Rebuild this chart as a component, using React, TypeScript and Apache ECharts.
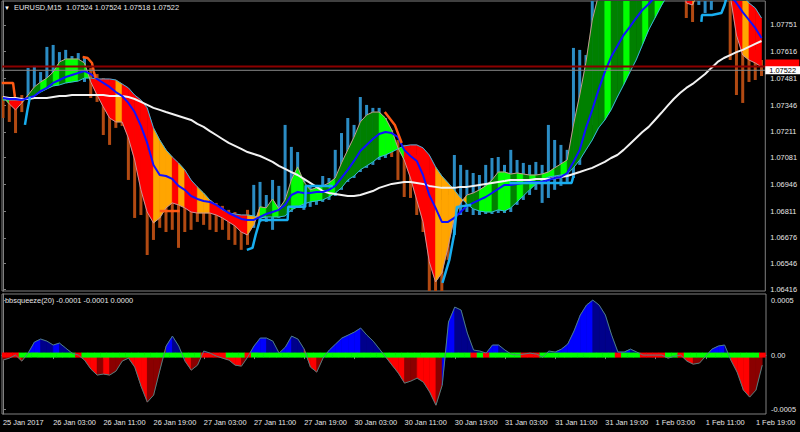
import { useEffect, useRef } from "react";
import * as echarts from "echarts";

// ---------- data (hourly samples, index = hours since 25 Jan 19:00) ----------
const timeLabels = [
  "25 Jan 2017", "26 Jan 03:00", "26 Jan 11:00", "26 Jan 19:00", "27 Jan 03:00", "27 Jan 11:00",
  "27 Jan 19:00", "30 Jan 03:00", "30 Jan 11:00", "30 Jan 19:00", "31 Jan 03:00", "31 Jan 11:00",
  "31 Jan 19:00", "1 Feb 03:00", "1 Feb 11:00", "1 Feb 19:00",
];
const priceTicks = [1.07751, 1.07616, 1.07481, 1.07346, 1.07211, 1.07081, 1.06946, 1.06811, 1.06676, 1.06546, 1.06416];
const oscTicks = [0.0005, 0, -0.0005];

const cloudA = [
  1.07372, 1.07372, 1.07372, 1.07372, 1.07377, 1.07392, 1.07412, 1.07428, 1.07443, 1.07448,
  1.07458, 1.07463, 1.07468, 1.07483, 1.07483, 1.07478, 1.07478, 1.07478, 1.07473, 1.07453,
  1.07433, 1.07397, 1.07372, 1.07332, 1.07231, 1.0717, 1.0712, 1.07084, 1.07054, 1.07019,
  1.06968, 1.06933, 1.06902, 1.06867, 1.06842, 1.06817, 1.06801, 1.06796, 1.06791, 1.06791,
  1.06786, 1.06776, 1.06781, 1.06781, 1.06781, 1.06786, 1.06817, 1.06832, 1.06847, 1.06857,
  1.06862, 1.06867, 1.06882, 1.06902, 1.06928, 1.06968, 1.06988, 1.07019, 1.07039, 1.07059,
  1.07084, 1.07094, 1.07109, 1.07125, 1.0714, 1.07145, 1.07145, 1.0713, 1.07094, 1.07034,
  1.06988, 1.06953, 1.06918, 1.06877, 1.06847, 1.06822, 1.06811, 1.06806, 1.06806, 1.06817,
  1.06811, 1.06827, 1.06857, 1.06887, 1.06918, 1.06948, 1.06968, 1.06983, 1.06988, 1.06993,
  1.06998, 1.07029, 1.07069, 1.0712, 1.0717, 1.07231, 1.07271, 1.07322, 1.07387, 1.07448,
  1.07513, 1.07574, 1.0765, 1.07726, 1.07786, 1.07847, 1.07902, 1.07953, 1.07978, 1.07978,
  1.07978, 1.07978, 1.07978, 1.07978, 1.07978, 1.07978, 1.07953, 1.07928, 1.07902, 1.07862,
  1.07837, 1.07786,
];
const cloudB = [
  1.07387, 1.07352, 1.07322, 1.07357, 1.07397, 1.07438, 1.07463, 1.07483, 1.07513, 1.07564,
  1.07579, 1.07579, 1.07579, 1.07559, 1.07463, 1.07397, 1.07337, 1.07281, 1.07261, 1.07261,
  1.0718, 1.07069, 1.06918, 1.06806, 1.06751, 1.06776, 1.06827, 1.06852, 1.06842, 1.06827,
  1.06806, 1.06801, 1.06801, 1.06801, 1.06791, 1.06776, 1.06756, 1.06736, 1.06705, 1.0669,
  1.06741, 1.06832, 1.06827, 1.06872, 1.06822, 1.06867, 1.06968, 1.07034, 1.06958, 1.06918,
  1.06928, 1.06938, 1.06953, 1.06978, 1.07054, 1.0712, 1.07185, 1.07261, 1.07296, 1.07311,
  1.07311, 1.07281, 1.07221, 1.0713, 1.07069, 1.06978, 1.06867, 1.06756, 1.06554, 1.06453,
  1.06498, 1.0663, 1.06781, 1.06852, 1.06892, 1.06902, 1.06918, 1.06938, 1.06968, 1.07008,
  1.07008, 1.06998, 1.07003, 1.06998, 1.06993, 1.06993, 1.06998, 1.07008, 1.07029, 1.07049,
  1.07069, 1.07246, 1.07397, 1.07564, 1.07776, 1.07902, 1.07978, 1.08029, 1.08079, 1.0813,
  1.0818, 1.08231, 1.08281, 1.08332, 1.08382, 1.08433, 1.08382, 1.08231, 1.08029, 1.07862,
  1.07852, 1.07928, 1.08003, 1.08029, 1.08029, 1.07978, 1.07902, 1.077, 1.07599, 1.07574,
  1.07559, 1.07539,
];
// L = lime, D = dark green, R = red, O = orange
const cloudTone = [
  "LRRODDLDLD", "LLDLRRRROR", "RRRROOOROR", "ROORRRRRRO", "OLDLDDLLDL", "LDLDDDDDDD",
  "LLLLRRRRRO", "OOOODDLLDL", "LDLDLDLLDL", "DDDDDDLDDL", "DDLDLLLLRR", "OLLLLRRROR", "RR",
].join("");

const fastMA = [
  1.07382, 1.07377, 1.07377, 1.07372, 1.07382, 1.07392, 1.07417, 1.07433, 1.07458, 1.07473,
  1.07488, 1.07498, 1.07508, 1.07518, 1.07503, 1.07478, 1.07458, 1.07438, 1.07412, 1.07392,
  1.07357, 1.07311, 1.07241, 1.07155, 1.07044, 1.06993, 1.06988, 1.06973, 1.06938, 1.06918,
  1.06887, 1.06872, 1.06862, 1.06857, 1.06842, 1.06822, 1.06801, 1.06786, 1.06771, 1.06766,
  1.06766, 1.06781, 1.06796, 1.06806, 1.06817, 1.06842, 1.06892, 1.06907, 1.06902, 1.06902,
  1.06907, 1.06907, 1.06918, 1.06938, 1.06978, 1.07019, 1.07064, 1.07114, 1.07145, 1.07175,
  1.072, 1.0721, 1.07205, 1.07185, 1.0712, 1.07089, 1.07064, 1.06993, 1.06892, 1.06827,
  1.06756, 1.06756, 1.06776, 1.06806, 1.06837, 1.06852, 1.06867, 1.06882, 1.06902, 1.06923,
  1.06943, 1.06943, 1.06948, 1.06953, 1.06958, 1.06958, 1.06958, 1.06968, 1.06978, 1.06983,
  1.07003, 1.07059, 1.0712, 1.07231, 1.07322, 1.07423, 1.07513, 1.07589, 1.07645, 1.077,
  1.07741, 1.07786, 1.07827, 1.07857, 1.07892, 1.07928, 1.07953, 1.07978, 1.07988, 1.07998,
  1.08003, 1.08003, 1.07998, 1.07988, 1.07968, 1.07938, 1.07902, 1.07862, 1.07816, 1.07776,
  1.07736, 1.07685,
];
const slowMA = [
  1.07387, 1.07382, 1.07382, 1.07377, 1.07377, 1.07382, 1.07382, 1.07382, 1.07387, 1.07392,
  1.07392, 1.07397, 1.07397, 1.07397, 1.07397, 1.07397, 1.07397, 1.07392, 1.07392, 1.07392,
  1.07387, 1.07377, 1.07362, 1.07347, 1.07332, 1.07322, 1.07311, 1.07301, 1.07291, 1.07281,
  1.07271, 1.07251, 1.07236, 1.07215, 1.07195, 1.07175, 1.07155, 1.0714, 1.07125, 1.07109,
  1.07099, 1.07089, 1.07074, 1.07059, 1.07039, 1.07024, 1.07008, 1.06993, 1.06973, 1.06953,
  1.06933, 1.06912, 1.06902, 1.06897, 1.06892, 1.06887, 1.06887, 1.06892, 1.06902, 1.06912,
  1.06928, 1.06938, 1.06948, 1.06953, 1.06958, 1.06958, 1.06953, 1.06948, 1.06938, 1.06933,
  1.06928, 1.06928, 1.06928, 1.06933, 1.06933, 1.06938, 1.06943, 1.06948, 1.06953, 1.06958,
  1.06963, 1.06968, 1.06968, 1.06968, 1.06968, 1.06973, 1.06973, 1.06973, 1.06978, 1.06983,
  1.06988, 1.06998, 1.07008, 1.07019, 1.07029, 1.07044, 1.07059, 1.07079, 1.07094, 1.0712,
  1.0715, 1.0718, 1.0721, 1.07236, 1.07271, 1.07306, 1.07342, 1.07377, 1.07407, 1.07433,
  1.07453, 1.07478, 1.07503, 1.07534, 1.07564, 1.07584, 1.07599, 1.07614, 1.07625, 1.0764,
  1.07655, 1.0767,
];
const barHigh = [
  1.07392, 1.07387, 1.07377, 1.07397, 1.07534, 1.07544, 1.07513, 1.0764, 1.0765, 1.07614,
  1.07625, 1.07594, 1.07609, 1.07584, 1.07534, 1.07503, 1.07483, 1.07463, 1.07433, 1.07412,
  1.07372, 1.07311, 1.07221, 1.0712, 1.07044, 1.07008, 1.06998, 1.06978, 1.06948, 1.06928,
  1.06907, 1.06892, 1.06877, 1.06867, 1.06852, 1.06837, 1.06817, 1.06806, 1.06791, 1.06817,
  1.06943, 1.06958, 1.06892, 1.06968, 1.06938, 1.07246, 1.07135, 1.07109, 1.06968, 1.06933,
  1.06943, 1.06988, 1.06978, 1.0712, 1.07205, 1.07281, 1.07246, 1.07387, 1.07347, 1.07332,
  1.07332, 1.07281, 1.07221, 1.0717, 1.07145, 1.0713, 1.07094, 1.07069, 1.06993, 1.06918,
  1.06867, 1.06892, 1.07094, 1.07044, 1.07019, 1.07003, 1.06993, 1.07044, 1.07079, 1.07084,
  1.07044, 1.0712, 1.07069, 1.07054, 1.07044, 1.07059, 1.07044, 1.07246, 1.0717, 1.07145,
  1.0712, 1.07635, 1.07625, 1.07599, 1.07928, 1.07978, 1.08029, 1.08079, 1.08079, 1.0813,
  1.0818, 1.0818, 1.08231, 1.08231, 1.08281, 1.08281, 1.08281, 1.08231, 1.0818, 1.08079,
  1.08079, 1.08079, 1.08079, 1.08079, 1.08079, 1.08079, 1.08029, 1.07877, 1.07776, 1.07675,
  1.07625, 1.07574,
];
const barLow = [
  1.07281, 1.07261, 1.07205, 1.07311, 1.07372, 1.07392, 1.07412, 1.07433, 1.07453, 1.07463,
  1.07473, 1.07483, 1.07483, 1.07463, 1.07382, 1.07362, 1.07195, 1.07145, 1.07231, 1.07241,
  1.06968, 1.06776, 1.06791, 1.06589, 1.06665, 1.06726, 1.06705, 1.06716, 1.06625, 1.06705,
  1.06716, 1.06756, 1.06741, 1.06716, 1.06705, 1.06716, 1.06665, 1.0664, 1.06615, 1.0664,
  1.06726, 1.06756, 1.06756, 1.06716, 1.06776, 1.06791, 1.06806, 1.06827, 1.06817, 1.06832,
  1.06842, 1.06857, 1.06867, 1.06887, 1.06918, 1.06958, 1.06978, 1.07008, 1.07029, 1.07044,
  1.07069, 1.07079, 1.07084, 1.06968, 1.06882, 1.06877, 1.06791, 1.06705, 1.06387, 1.06387,
  1.06402, 1.06564, 1.0669, 1.06791, 1.06806, 1.06791, 1.06791, 1.06796, 1.06796, 1.06801,
  1.06801, 1.06806, 1.06842, 1.06867, 1.06892, 1.06918, 1.06852, 1.06877, 1.06918, 1.06938,
  1.06958, 1.06978, 1.07044, 1.0717, 1.07246, 1.07372, 1.07423, 1.07524, 1.07625, 1.07675,
  1.07726, 1.07776, 1.07827, 1.07877, 1.07928, 1.07978, 1.08029, 1.08029, 1.07928, 1.07786,
  1.07766, 1.07852, 1.07811, 1.07827, 1.07902, 1.07902, 1.07574, 1.07397, 1.07357, 1.07463,
  1.07473, 1.07493,
];
// u = bullish (blue) bar, d = bearish (brown) bar
const barDir = [
  "dddduuuuuu", "uuuudddddd", "dddddddddd", "dddddddddd", "uuuuuuuuuu", "uuuuuuuuuu",
  "uudddddddd", "dduuuuuuuu", "uuuuuuuuuu", "uuuuuuuuuu", "uuuuuuuuud", "duuuuudddd", "dd",
].join("");

const upStops = [
  [[3.5, 1.07246], [3.9, 1.07322], [4.3, 1.07387]],
  [[38.9, 1.06615], [39.8, 1.06625], [40.3, 1.0669], [41.0, 1.06766], [45.4, 1.06766], [45.5, 1.06832], [48.2, 1.06832], [48.3, 1.06938], [52.6, 1.06938]],
  [[70.1, 1.06448], [71.2, 1.06564], [72.0, 1.067], [72.4, 1.06832], [74.7, 1.06842]],
  [[80.8, 1.06953], [90.7, 1.06953], [91.0, 1.06988]],
  [[111.4, 1.07766], [111.5, 1.07801], [113.1, 1.07801], [114.6, 1.07811], [115.1, 1.07852], [115.4, 1.07887]],
];
const downStops = [
  [[-0.2, 1.07458], [1.6, 1.07458], [1.75, 1.07423], [1.9, 1.07387]],
  [[12.7, 1.07589], [13.5, 1.07584], [14.2, 1.07559], [14.5, 1.07513], [14.8, 1.07483]],
  [[25.0, 1.06811], [28.2, 1.06811]],
  [[60.9, 1.07311], [62.5, 1.07246], [63.6, 1.07155]],
];
const bidPrice = 1.07522;
const askPrice = 1.07541;

const squeezeOsc = [
  -0.000046, -0.000028, 0, -0.000055, 0.000018, 0.000119, 0.000147, 0.000128, 0.000092, 0.00011,
  0.000064, 0.000018, 0, -0.000046, -0.000128, -0.000183, -0.000174, -0.000183, -0.000147, -0.000055,
  -0.000028, -0.00011, -0.000284, -0.000431, -0.000367, -0.000138, 0.000083, 0.000174, 0.000083, -0.000055,
  -0.000138, -0.000092, 0.000037, 0.000018, -0.000009, -0.000028, -0.000046, -0.000092, -0.000101, -0.000018,
  0.000083, 0.000156, 0.000156, 0.000128, 0.000018, 0.000073, 0.000174, 0.000147, 0.000055, -0.00011,
  -0.000156, -0.000028, 0.000046, 0.000101, 0.000156, 0.000183, 0.000211, 0.000248, 0.000183, 0.000128,
  0.000055, -0.000018, -0.000092, -0.000165, -0.000257, -0.000238, -0.000211, -0.000248, -0.000339, -0.000459,
  -0.000275, 0.000303, 0.00044, 0.000413, 0.000202, 0.000046, 0.000037, 0.000018, 0.000092, 0.000092,
  0.000046, 0.000009, 0, 0.000009, 0.000018, 0.000009, -0.000018, 0.000037, 0.000028, 0.000055,
  0.000101, 0.00022, 0.000367, 0.000459, 0.000504, 0.000459, 0.000367, 0.000183, 0.000028, 0.000028,
  0.000055, 0.000028, 0, 0, 0, 0, -0.000028, -0.000009, 0, -0.000055,
  -0.000083, -0.000073, -0.000009, 0.000055, 0.000083, 0.000092, -0.000046, -0.000156, -0.000321, -0.000385,
  -0.000321, -0.000092,
];
// G = squeeze off (green dot), R = squeeze on (red dot)
const squeezeState = [
  "RRRGGGGGGG", "GGRGGGGGGG", "GGGGGGGGGG", "GGRRRRGGGR", "GGGGGGGGGG", "GGGGGGGGGG",
  "GGGGGGGGGG", "GGGGGRGRGG", "GGGRRRGGGG", "GGGGGGGGRG", "GGRRRRGGRG", "GGGGGGGGGG", "GR",
].join("");

// ---------- styling ----------
const FONT = "'Liberation Sans', Arial, sans-serif";
const FS = 7.4;
const TXT = "#e6e6e6";
const GRAY = "#808080";
const TONE: Record<string, string> = { L: "#00ff00", D: "#008000", R: "#ff0000", O: "#ffa500" };
const TONE_KEYS = "LDRO";
const X_MIN = -0.16;
const X_MAX = 121.6;

function buildOption(): any {
  const tickHours = timeLabels.map((_, k) => k * 8);
  const cloudData = cloudA.slice(0, -1).map((a, i) => [i, a, cloudB[i], cloudA[i + 1], cloudB[i + 1], TONE_KEYS.indexOf(cloudTone[i])]);
  const barData = barHigh.map((h, i) => [i, barLow[i], h, barDir[i] === "u" ? 1 : 0]);
  const histData = squeezeOsc.slice(0, -1).map((v, i) => [i, v, squeezeOsc[i + 1]]);
  const dotData = squeezeState.split("").map((c, i) => [i, 0, c === "G" ? 1 : 0]);

  const lineSeries = (data: number[][], color: string, width: number, extra: any = {}) => ({
    type: "line",
    xAxisIndex: 0,
    yAxisIndex: 0,
    data,
    showSymbol: false,
    symbol: "none",
    clip: true,
    silent: true,
    lineStyle: { color, width },
    ...extra,
  });

  const series: any[] = [
    {
      type: "custom",
      name: "bars",
      xAxisIndex: 0,
      yAxisIndex: 0,
      clip: true,
      silent: true,
      data: barData,
      encode: { x: 0, y: [1, 2] },
      renderItem: (_p: any, api: any) => {
        const i = api.value(0);
        const lo = api.coord([i, api.value(1)]);
        const hi = api.coord([i, api.value(2)]);
        return {
          type: "line",
          shape: { x1: lo[0], y1: lo[1], x2: hi[0], y2: hi[1] },
          style: { stroke: api.value(3) ? "#2b8cc4" : "#b24a12", lineWidth: 3 },
        };
      },
    },
    {
      type: "custom",
      name: "cloud",
      xAxisIndex: 0,
      yAxisIndex: 0,
      clip: true,
      silent: true,
      data: cloudData,
      encode: { x: 0, y: [1, 2, 3, 4] },
      renderItem: (_p: any, api: any) => {
        const i = api.value(0);
        const p1 = api.coord([i, api.value(1)]);
        const p2 = api.coord([i + 1, api.value(3)]);
        const p3 = api.coord([i + 1, api.value(4)]);
        const p4 = api.coord([i, api.value(2)]);
        const c = TONE[TONE_KEYS[api.value(5)]];
        return {
          type: "polygon",
          shape: { points: [p1, p2, p3, p4] },
          style: { fill: c, stroke: c, lineWidth: 0.6 },
        };
      },
    },
    lineSeries(cloudA.map((v, i) => [i, v]), "#39b4e0", 1),
    lineSeries(cloudB.map((v, i) => [i, v]), "#c89696", 1),
    lineSeries(slowMA.map((v, i) => [i, v]), "#f2f2f2", 2),
    lineSeries(fastMA.map((v, i) => [i, v]), "#1010ff", 2),
    ...upStops.map((seg) => lineSeries(seg, "#18aef0", 2.5)),
    ...downStops.map((seg) => lineSeries(seg, "#ff5a14", 2.5)),
    // ask line: its price box sits behind the bid box, so only its red edge shows
    lineSeries([[X_MIN, askPrice], [X_MAX, askPrice]], "#8b0000", 2, {
      endLabel: {
        show: true,
        distance: 0,
        formatter: "{b| }",
        rich: { b: { width: 34, height: 8, backgroundColor: "#ff0000" } },
        offset: [0, -3],
      },
    }),
    lineSeries([[X_MIN, bidPrice], [X_MAX, bidPrice]], "#8a8a8a", 1, {
      endLabel: {
        show: true,
        formatter: bidPrice.toFixed(5),
        backgroundColor: "#ffffff",
        color: "#000000",
        padding: [1, 4, 0, 4],
        distance: 0,
        fontFamily: FONT,
        fontSize: FS,
      },
    }),
    {
      type: "custom",
      name: "hist",
      xAxisIndex: 1,
      yAxisIndex: 1,
      clip: true,
      silent: true,
      data: histData,
      encode: { x: 0, y: [1, 2] },
      renderItem: (_p: any, api: any) => {
        const i = api.value(0);
        const v0 = api.value(1);
        const v1 = api.value(2);
        const rising = v1 >= v0;
        const pos = v0 + v1 >= 0;
        const c = pos ? (rising ? "#0000ff" : "#00008b") : (rising ? "#8b0000" : "#ff0000");
        const a = api.coord([i, 0]);
        const b = api.coord([i, v0]);
        const d = api.coord([i + 1, v1]);
        const e = api.coord([i + 1, 0]);
        return { type: "polygon", shape: { points: [a, b, d, e] }, style: { fill: c, stroke: c, lineWidth: 0.6 } };
      },
    },
    {
      type: "line",
      xAxisIndex: 1,
      yAxisIndex: 1,
      data: squeezeOsc.map((v, i) => [i, v]),
      symbol: "none",
      silent: true,
      lineStyle: { color: "#4f8080", width: 1 },
    },
    {
      type: "custom",
      name: "dots",
      xAxisIndex: 1,
      yAxisIndex: 1,
      clip: true,
      silent: true,
      data: dotData,
      encode: { x: 0, y: 1 },
      renderItem: (_p: any, api: any) => {
        const i = api.value(0);
        const a = api.coord([i - 0.5, 0]);
        const b = api.coord([i + 0.5, 0]);
        const c = api.value(2) ? "#00ff00" : "#ff0000";
        return { type: "rect", shape: { x: a[0], y: a[1] - 2.5, width: b[0] - a[0] + 0.4, height: 5 }, style: { fill: c } };
      },
    },
  ];

  return {
    animation: false,
    backgroundColor: "#000000",
    textStyle: { fontFamily: FONT },
    grid: [
      { left: 2, right: 34, top: 1, height: 290, show: true, borderColor: GRAY, borderWidth: 1, backgroundColor: "transparent" },
      { left: 2, right: 34, top: 294, height: 120, show: true, borderColor: GRAY, borderWidth: 1, backgroundColor: "transparent" },
    ],
    xAxis: [
      { gridIndex: 0, type: "value", min: X_MIN, max: X_MAX, show: false },
      {
        gridIndex: 1,
        type: "value",
        min: X_MIN,
        max: X_MAX,
        axisLine: { show: true, lineStyle: { color: GRAY } },
        axisTick: { show: true, customValues: tickHours, length: 4, lineStyle: { color: GRAY } },
        axisLabel: {
          customValues: tickHours,
          formatter: (v: number) => timeLabels[Math.round(v / 8)] ?? "",
          align: "left",
          color: TXT,
          fontFamily: FONT,
          fontSize: FS,
          margin: 5,
        },
        splitLine: { show: false },
      },
    ],
    yAxis: [
      {
        gridIndex: 0,
        type: "value",
        position: "right",
        min: 1.06407,
        max: 1.07872,
        axisLine: { show: true, lineStyle: { color: GRAY } },
        axisTick: { show: true, customValues: priceTicks, length: 3, lineStyle: { color: GRAY } },
        axisLabel: {
          customValues: priceTicks,
          formatter: (v: number) => v.toFixed(5),
          color: TXT,
          fontFamily: FONT,
          fontSize: FS,
          margin: 5,
        },
        splitLine: { show: false },
      },
      {
        gridIndex: 1,
        type: "value",
        position: "right",
        min: -0.00054,
        max: 0.00056,
        axisLine: { show: true, lineStyle: { color: GRAY } },
        axisTick: { show: true, customValues: oscTicks, length: 3, lineStyle: { color: GRAY } },
        axisLabel: {
          customValues: oscTicks,
          formatter: (v: number) => (v === 0 ? "0.00" : v.toFixed(4)),
          color: TXT,
          fontFamily: FONT,
          fontSize: FS,
          margin: 5,
        },
        splitLine: { show: false },
      },
    ],
    graphic: [
      { type: "text", left: 4, top: 5, style: { text: "▼", fill: "#ffffff", font: `6px ${FONT}` } },
      { type: "text", left: 14, top: 4, style: { text: "EURUSD,M15", fill: TXT, font: `${FS}px ${FONT}` } },
      { type: "text", left: 66, top: 4, style: { text: "1.07524 1.07524 1.07518 1.07522", fill: TXT, font: `${FS}px ${FONT}` } },
      { type: "text", left: 5, top: 297, style: { text: "bbsqueeze(20) -0.0001 -0.0001 0.0000", fill: TXT, font: `${FS}px ${FONT}` } },
    ],
    series,
  };
}

export default function App() {
  const ref = useRef<HTMLDivElement>(null);
  useEffect(() => {
    if (!ref.current) return;
    const chart = echarts.init(ref.current, null, { renderer: "svg" });
    chart.setOption(buildOption());
    return () => chart.dispose();
  }, []);
  return (
    <div
      ref={ref}
      style={{ position: "fixed", left: 0, top: 0, width: 800, height: 432, background: "#000" }}
    />
  );
}
